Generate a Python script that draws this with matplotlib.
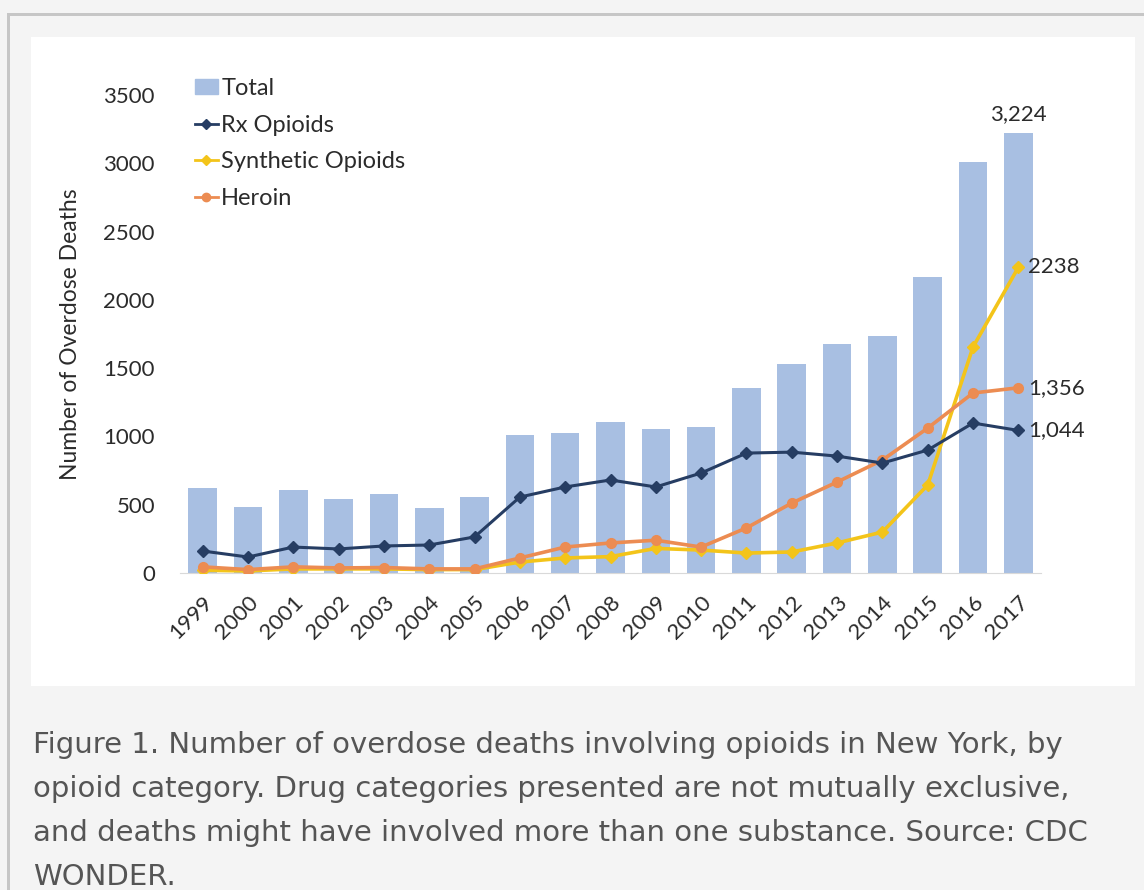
import matplotlib
matplotlib.use("Agg")
import matplotlib.pyplot as plt
from matplotlib.patches import Rectangle
from matplotlib.lines import Line2D

years = [str(y) for y in range(1999, 2018)]
total = [620, 483, 607, 542, 578, 476, 556, 1010, 1025, 1105, 1054, 1069, 1354, 1530, 1676, 1735, 2167, 3009, 3224]
rx_opioids = [161, 117, 190, 176, 198, 205, 264, 556, 630, 681, 630, 732, 878, 885, 856, 805, 900, 1098, 1044]
synthetic = [20, 15, 30, 30, 30, 25, 25, 80, 110, 120, 180, 168, 146, 154, 220, 300, 644, 1655, 2238]
heroin = [45, 25, 45, 37, 40, 30, 30, 110, 190, 220, 240, 190, 330, 512, 666, 827, 1061, 1318, 1356]
end_labels = ["3,224", "2238", "1,356", "1,044"]
caption = ("Figure 1. Number of overdose deaths involving opioids in New York, by\n"
           "opioid category. Drug categories presented are not mutually exclusive,\n"
           "and deaths might have involved more than one substance. Source: CDC\n"
           "WONDER.")

W, H = 1144, 890
fig = plt.figure(figsize=(W / 100, H / 100), dpi=100)
fig.patch.set_facecolor("#f4f4f4")

# borders and white panel
fig.add_artist(Rectangle((7 / W, 0), 3 / W, 1 - 13 / H, transform=fig.transFigure,
                         facecolor="#c6c6c6", edgecolor="none", zorder=-10))
fig.add_artist(Rectangle((7 / W, 1 - 16 / H), 1, 3 / H, transform=fig.transFigure,
                         facecolor="#c6c6c6", edgecolor="none", zorder=-10))
fig.add_artist(Rectangle((31 / W, 1 - 686 / H), (1135 - 31) / W, (686 - 37) / H,
                         transform=fig.transFigure, facecolor="white", edgecolor="none",
                         zorder=-10))

ax = fig.add_axes([180 / W, 1 - 573 / H, (1041 - 180) / W, (573 - 95) / H])
ax.set_zorder(5)
ax.set_facecolor("none")
x = list(range(len(years)))

bar_c = "#a8bfe2"
rx_c = "#263d63"
syn_c = "#f3c41a"
her_c = "#ec8c52"
fam = ["Lato", "DejaVu Sans"]
txt_c = "#2b2b2b"

ax.bar(x, total, width=0.63, color=bar_c, zorder=1, label="Total")
ax.plot(x, rx_opioids, color=rx_c, lw=2.2, marker="D", ms=6, zorder=4, label="Rx Opioids")
ax.plot(x, synthetic, color=syn_c, lw=2.6, marker="D", ms=6, zorder=3, label="Synthetic Opioids")
ax.plot(x, heroin, color=her_c, lw=2.6, marker="o", ms=7, zorder=3, label="Heroin")

ax.set_xlim(-0.5, len(years) - 0.5)
ax.set_ylim(0, 3500)
ax.set_yticks(range(0, 3501, 500))
ax.set_xticks(x)
ax.set_xticklabels(years, rotation=45, ha="right", va="top", rotation_mode="anchor")
ax.tick_params(axis="both", length=0, labelsize=16, labelcolor=txt_c)
ax.tick_params(axis="x", pad=14)
ax.tick_params(axis="y", pad=18)
for lab in ax.get_yticklabels() + ax.get_xticklabels():
    lab.set_family(fam)
for s in ["top", "right", "left"]:
    ax.spines[s].set_visible(False)
ax.spines["bottom"].set_color("#d9d9d9")
ax.set_ylabel("Number of Overdose Deaths", fontsize=16.5, color=txt_c,
              family=fam, labelpad=16)

last = len(years) - 1
tf = dict(fontsize=16, color=txt_c, family=fam)
ax.annotate(end_labels[0], (last, total[-1]), xytext=(0, 6), textcoords="offset points",
            ha="center", va="bottom", **tf)
ax.annotate(end_labels[1], (last, synthetic[-1]), xytext=(7, 0), textcoords="offset points",
            ha="left", va="center", **tf)
ax.annotate(end_labels[2], (last, heroin[-1]), xytext=(7, 0), textcoords="offset points",
            ha="left", va="center", **tf)
ax.annotate(end_labels[3], (last, rx_opioids[-1]), xytext=(7, 0), textcoords="offset points",
            ha="left", va="center", **tf)

handles = [Rectangle((0, 0), 1, 1, color=bar_c),
           Line2D([], [], color=rx_c, lw=2, marker="D", ms=5),
           Line2D([], [], color=syn_c, lw=2, marker="D", ms=5),
           Line2D([], [], color=her_c, lw=2, marker="o", ms=6)]
leg = ax.legend(handles, ["Total", "Rx Opioids", "Synthetic Opioids", "Heroin"],
                loc="upper left", bbox_to_anchor=(-0.007, 1.08), frameon=False,
                handlelength=0.95, handleheight=0.6, handletextpad=0.15, labelspacing=0.66,
                prop={"family": fam, "size": 17})
for t in leg.get_texts():
    t.set_color(txt_c)

fig.text(33 / W, 1 - 731 / H, caption, ha="left", va="top", fontsize=21,
         color="#555555", family="DejaVu Sans", linespacing=1.72)

fig.savefig("out.png", dpi=100, facecolor=fig.get_facecolor())
